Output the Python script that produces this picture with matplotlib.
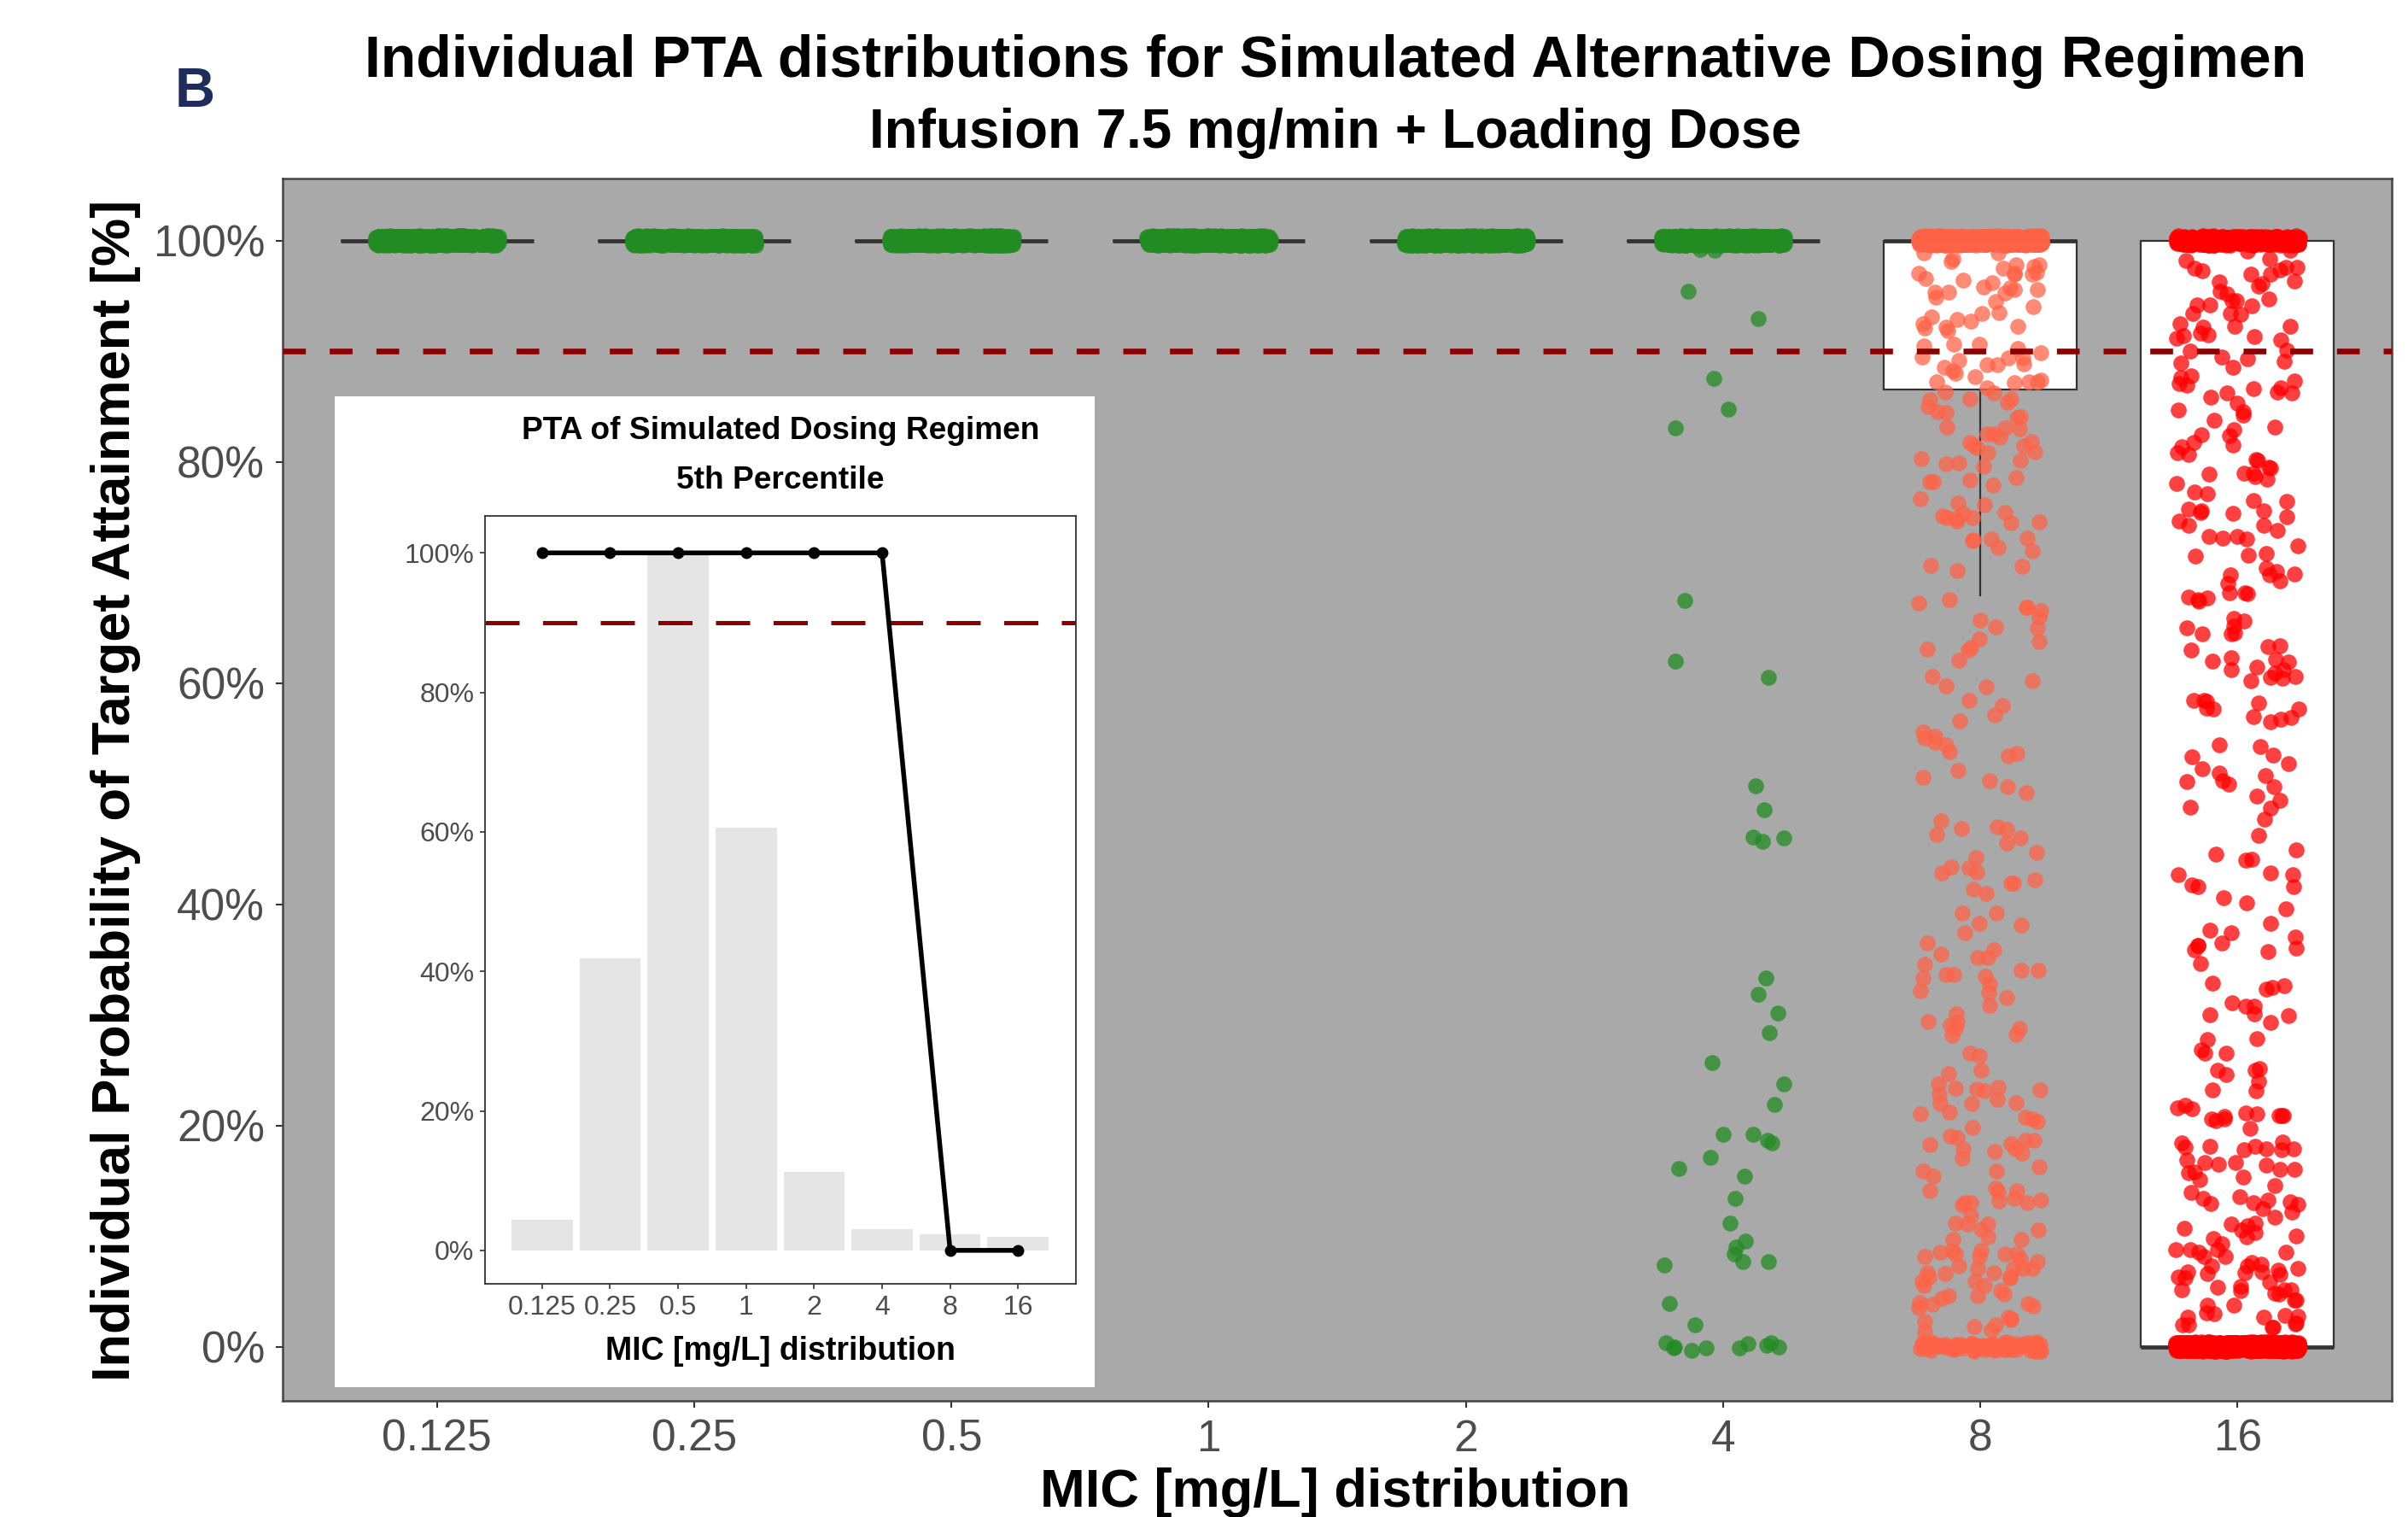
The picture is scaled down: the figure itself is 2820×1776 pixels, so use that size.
import numpy as np
import matplotlib
matplotlib.use("Agg")
import matplotlib.pyplot as plt

plt.rcParams["font.family"] = ["Liberation Sans", "DejaVu Sans"]

mic_labels = ["0.125", "0.25", "0.5", "1", "2", "4", "8", "16"]

# box statistics (fraction of PTA)
box_q1 = [1, 1, 1, 1, 1, 1, 0.865, 0.0]
box_med = [1, 1, 1, 1, 1, 1, 1.0, 0.0]
box_q3 = [1, 1, 1, 1, 1, 1, 1.0, 1.0]
whisk_lo = [1, 1, 1, 1, 1, 1, 0.679, 0.0]
whisk_hi = [1, 1, 1, 1, 1, 1, 1.0, 1.0]

# subjects sitting exactly at 100 % and at 0 % (the solid bands)
n_at_full = [1000, 1000, 1000, 1000, 1000, 950, 700, 400]
n_at_zero = [0, 0, 0, 0, 0, 10, 80, 800]

# individual values strictly between 0 and 100 %
pta_4 = [0.990, 0.988, 0.954, 0.931, 0.874, 0.847, 0.828, 0.677, 0.620, 0.601,
         0.510, 0.488, 0.462, 0.460, 0.455, 0.333, 0.320, 0.298, 0.287, 0.258,
         0.239, 0.221, 0.195, 0.188, 0.183, 0.183, 0.168, 0.163, 0.151, 0.132,
         0.109, 0.094, 0.088, 0.088, 0.078, 0.076, 0.076, 0.036, 0.016]

pta_8 = [0.990, 0.990, 0.982, 0.983, 0.985, 0.977, 0.980, 0.976, 0.973, 0.972,
         0.971, 0.971, 0.970, 0.966, 0.963, 0.962, 0.961, 0.958, 0.956, 0.956,
         0.954, 0.953, 0.949, 0.949, 0.943, 0.941, 0.935, 0.935, 0.934, 0.932,
         0.928, 0.926, 0.925, 0.922, 0.922, 0.917, 0.908, 0.904, 0.904, 0.901,
         0.899, 0.894, 0.894, 0.891, 0.890, 0.888, 0.887, 0.884, 0.882, 0.879,
         0.879, 0.875, 0.874, 0.873, 0.870, 0.870, 0.869, 0.868, 0.865, 0.861,
         0.857, 0.856, 0.856, 0.853, 0.852, 0.846, 0.845, 0.840, 0.836, 0.833,
         0.833, 0.828, 0.827, 0.823, 0.819, 0.819, 0.818, 0.818, 0.814, 0.813,
         0.811, 0.805, 0.802, 0.801, 0.797, 0.796, 0.793, 0.789, 0.784, 0.782,
         0.782, 0.776, 0.769, 0.762, 0.761, 0.756, 0.754, 0.753, 0.751, 0.748,
         0.747, 0.747, 0.746, 0.742, 0.733, 0.733, 0.731, 0.729, 0.721, 0.720,
         0.704, 0.704, 0.703,
         0.676, 0.669, 0.666, 0.666, 0.666, 0.658, 0.657, 0.654, 0.652, 0.643,
         0.637, 0.630, 0.630, 0.627, 0.622, 0.609, 0.600, 0.600, 0.599, 0.581,
         0.580, 0.571, 0.565, 0.553, 0.553, 0.547, 0.546, 0.544, 0.538, 0.537,
         0.533, 0.523, 0.515, 0.515, 0.504, 0.499, 0.477, 0.473, 0.470, 0.469,
         0.466, 0.460, 0.454, 0.447, 0.446, 0.436, 0.434, 0.429, 0.429, 0.420,
         0.420, 0.419, 0.411, 0.406, 0.392, 0.391, 0.380, 0.379, 0.377, 0.366,
         0.359, 0.357, 0.352, 0.348, 0.344, 0.341, 0.337, 0.337, 0.335, 0.335,
         0.333, 0.330,
         0.323, 0.320, 0.317, 0.305, 0.300, 0.296, 0.295, 0.291, 0.291, 0.286,
         0.282, 0.281, 0.267, 0.266, 0.251, 0.244, 0.240, 0.233, 0.232, 0.232,
         0.231, 0.231, 0.231, 0.224, 0.223, 0.219, 0.219, 0.209, 0.209, 0.205,
         0.205, 0.204, 0.197, 0.187, 0.186, 0.185, 0.185, 0.183, 0.183, 0.182,
         0.181, 0.176, 0.173, 0.172, 0.161, 0.161, 0.158, 0.156, 0.146, 0.145,
         0.142, 0.137, 0.134, 0.133, 0.131, 0.129, 0.128, 0.127, 0.127, 0.120,
         0.114, 0.111, 0.107, 0.105, 0.104, 0.102, 0.098, 0.096, 0.088, 0.087,
         0.084, 0.084, 0.083, 0.083, 0.082, 0.080, 0.079, 0.077, 0.074, 0.073,
         0.072, 0.070, 0.069, 0.068, 0.065, 0.062, 0.061, 0.061, 0.060, 0.059,
         0.057, 0.055, 0.053, 0.052, 0.047, 0.046, 0.044, 0.044, 0.042, 0.041,
         0.041, 0.039, 0.034, 0.030, 0.024, 0.024, 0.023, 0.019, 0.018, 0.012,
         0.011]

pta_16 = [0.991, 0.991, 0.985, 0.984, 0.977, 0.975, 0.975, 0.972, 0.972, 0.971,
          0.969, 0.967, 0.964, 0.962, 0.960, 0.957, 0.948, 0.948, 0.946, 0.945,
          0.944, 0.944, 0.942, 0.937, 0.935, 0.933, 0.928, 0.926, 0.926, 0.922,
          0.918, 0.917, 0.915, 0.914, 0.912, 0.909, 0.904, 0.900, 0.894, 0.891,
          0.891, 0.888, 0.886, 0.879, 0.873, 0.870, 0.869, 0.867, 0.867, 0.865,
          0.865, 0.863, 0.862, 0.856, 0.851, 0.851, 0.842, 0.838, 0.836, 0.832,
          0.832, 0.827, 0.827, 0.817, 0.814, 0.811, 0.808, 0.804, 0.804, 0.799,
          0.799, 0.797, 0.793, 0.791, 0.790, 0.784, 0.782, 0.781, 0.770, 0.768,
          0.768, 0.763, 0.756, 0.755, 0.755, 0.754, 0.754, 0.752, 0.746, 0.742,
          0.739, 0.738, 0.733, 0.732, 0.729, 0.728, 0.724, 0.716, 0.715, 0.711,
          0.705, 0.700, 0.697, 0.697, 0.697, 0.693, 0.689, 0.685, 0.683, 0.680,
          0.678, 0.675, 0.674, 0.673,
          0.662, 0.655, 0.650, 0.646, 0.646, 0.645, 0.643, 0.632, 0.631, 0.630,
          0.627, 0.623, 0.623, 0.619, 0.616, 0.613, 0.612, 0.608, 0.608, 0.607,
          0.603, 0.603, 0.586, 0.583, 0.581, 0.580, 0.578, 0.577, 0.574, 0.573,
          0.567, 0.565, 0.564, 0.544, 0.544, 0.535, 0.531, 0.526, 0.523, 0.519,
          0.518, 0.515, 0.510, 0.509, 0.506, 0.497, 0.497, 0.487, 0.487, 0.474,
          0.464, 0.451, 0.447, 0.443, 0.436, 0.427, 0.427, 0.427, 0.419, 0.419,
          0.414, 0.402, 0.400, 0.392, 0.385, 0.379, 0.370, 0.369, 0.366, 0.366,
          0.366, 0.364, 0.358, 0.357, 0.346,
          0.331, 0.328, 0.322, 0.322, 0.314, 0.309, 0.307, 0.304, 0.302, 0.298,
          0.289, 0.280, 0.277, 0.269, 0.268, 0.266, 0.253, 0.249, 0.249, 0.246,
          0.239, 0.233, 0.231, 0.218, 0.218, 0.217, 0.212, 0.212, 0.210, 0.209,
          0.206, 0.206, 0.204, 0.203, 0.203, 0.196, 0.183, 0.183, 0.182, 0.182,
          0.181, 0.178, 0.178, 0.177, 0.176, 0.170, 0.164, 0.163, 0.163, 0.163,
          0.160, 0.160, 0.156, 0.156, 0.155, 0.150, 0.146, 0.140, 0.134, 0.133,
          0.133, 0.132, 0.132, 0.132, 0.128, 0.127, 0.122, 0.114, 0.113, 0.111,
          0.111, 0.109, 0.106, 0.104, 0.101, 0.098, 0.097, 0.096, 0.091, 0.087,
          0.086, 0.084, 0.083, 0.082, 0.080, 0.079, 0.078, 0.075, 0.073, 0.071,
          0.070, 0.068, 0.066, 0.065, 0.064, 0.062, 0.061, 0.060, 0.059, 0.057,
          0.055, 0.052, 0.052, 0.051, 0.050, 0.047, 0.045, 0.045, 0.039, 0.038,
          0.037, 0.034, 0.032, 0.029, 0.026, 0.025, 0.023, 0.023, 0.020, 0.019,
          0.018, 0.018, 0.016]

scattered = {5: pta_4, 6: pta_8, 7: pta_16}
point_colors = ["forestgreen"] * 6 + ["tomato", "red"]

# inset: normalised MIC distribution and PTA at the 5th percentile
inset_freq = [0.044, 0.419, 1.0, 0.606, 0.113, 0.031, 0.023, 0.020]
inset_pta5 = [1, 1, 1, 1, 1, 1, 0, 0]

target = 0.9

fig = plt.figure(figsize=(28.2, 17.76), dpi=100)

# ---------- main panel ----------
ax = fig.add_axes([0.1174, 0.0766, 0.8759, 0.8057])
ax.set_facecolor("#A9A9A9")
pos = np.arange(1, len(mic_labels) + 1)

stats = [dict(q1=a, med=b, q3=c, whislo=d, whishi=e, fliers=[])
         for a, b, c, d, e in zip(box_q1, box_med, box_q3, whisk_lo, whisk_hi)]
ax.bxp(stats, positions=pos, widths=0.75, patch_artist=True,
       showfliers=False, showcaps=False,
       boxprops=dict(facecolor="white", edgecolor="#333333", linewidth=1.6),
       medianprops=dict(color="#333333", linewidth=3.4),
       whiskerprops=dict(color="#333333", linewidth=1.6),
       zorder=2)

rng = np.random.default_rng(11)
for i, p in enumerate(pos):
    vals = [1.0] * n_at_full[i] + [0.0] * n_at_zero[i] + scattered.get(i, [])
    vals = np.array(vals)
    xs = p + rng.uniform(-0.24, 0.24, len(vals))
    ys = vals + rng.uniform(-0.004, 0.004, len(vals))
    ax.scatter(xs, ys, s=180, color=point_colors[i], alpha=0.75,
               linewidths=0, zorder=3)

ax.axhline(target, color="#8B0000", lw=4.8, dashes=(4, 4.2), zorder=4)

ax.set_xlim(0.4, 8.6)
ax.set_ylim(-0.049, 1.056)
ax.set_xticks(pos)
ax.set_xticklabels(mic_labels)
yt = [0, 0.2, 0.4, 0.6, 0.8, 1.0]
ax.set_yticks(yt)
ax.set_yticklabels([f"{int(round(v * 100))}%" for v in yt])
ax.tick_params(axis="both", length=6, width=1.5, color="#333333",
               labelcolor="#4D4D4D", labelsize=37)
ax.tick_params(axis="x", pad=9)
ax.tick_params(axis="y", pad=9)
for sp in ax.spines.values():
    sp.set_color("#444444")
    sp.set_linewidth(1.8)

fig.text(0.0479, 0.479, "Individual Probability of Target Attainment [%]",
         rotation=90, ha="center", va="center", fontsize=45.5, fontweight="bold")
fig.text(0.5546, 0.0158, "MIC [mg/L] distribution",
         ha="center", va="center", fontsize=45.5, fontweight="bold")

fig.text(0.5546, 0.9595,
         "Individual PTA distributions for Simulated Alternative Dosing Regimen",
         ha="center", va="center", fontsize=49, fontweight="bold")
fig.text(0.5546, 0.912, "Infusion 7.5 mg/min + Loading Dose",
         ha="center", va="center", fontsize=45.8, fontweight="bold")
fig.text(0.0809, 0.939, "B", ha="center", va="center", fontsize=47,
         fontweight="bold", color="#1F2D5C")

# ---------- inset ----------
panel = fig.add_axes([0.139, 0.0856, 0.3156, 0.6532])
panel.set_facecolor("white")
panel.set_xticks([])
panel.set_yticks([])
for sp in panel.spines.values():
    sp.set_visible(False)

ins = fig.add_axes([0.2014, 0.1537, 0.2454, 0.5062])
ins.set_facecolor("white")
ins.bar(pos, inset_freq, width=0.9, color="#E5E5E5", zorder=1)
ins.axhline(target, color="#8B0000", lw=3.6, dashes=(8, 5.5), zorder=2)
ins.plot(pos, inset_pta5, color="black", lw=4, marker="o", ms=9, zorder=3)
ins.set_xlim(0.16, 8.85)
ins.set_ylim(-0.048, 1.053)
ins.set_xticks(pos)
ins.set_xticklabels(mic_labels)
ins.set_yticks(yt)
ins.set_yticklabels([f"{int(round(v * 100))}%" for v in yt])
ins.tick_params(axis="both", length=4, width=1.2, color="#333333",
                labelcolor="#4D4D4D", labelsize=23, pad=5)
for sp in ins.spines.values():
    sp.set_color("#333333")
    sp.set_linewidth(1.3)

fig.text(0.3241, 0.7157, "PTA of Simulated Dosing Regimen",
         ha="center", va="center", fontsize=26.7, fontweight="bold")
fig.text(0.3241, 0.683, "5th Percentile",
         ha="center", va="center", fontsize=26.7, fontweight="bold")
fig.text(0.3241, 0.1092, "MIC [mg/L] distribution",
         ha="center", va="center", fontsize=27, fontweight="bold")

fig.savefig("out.png", dpi=100)
